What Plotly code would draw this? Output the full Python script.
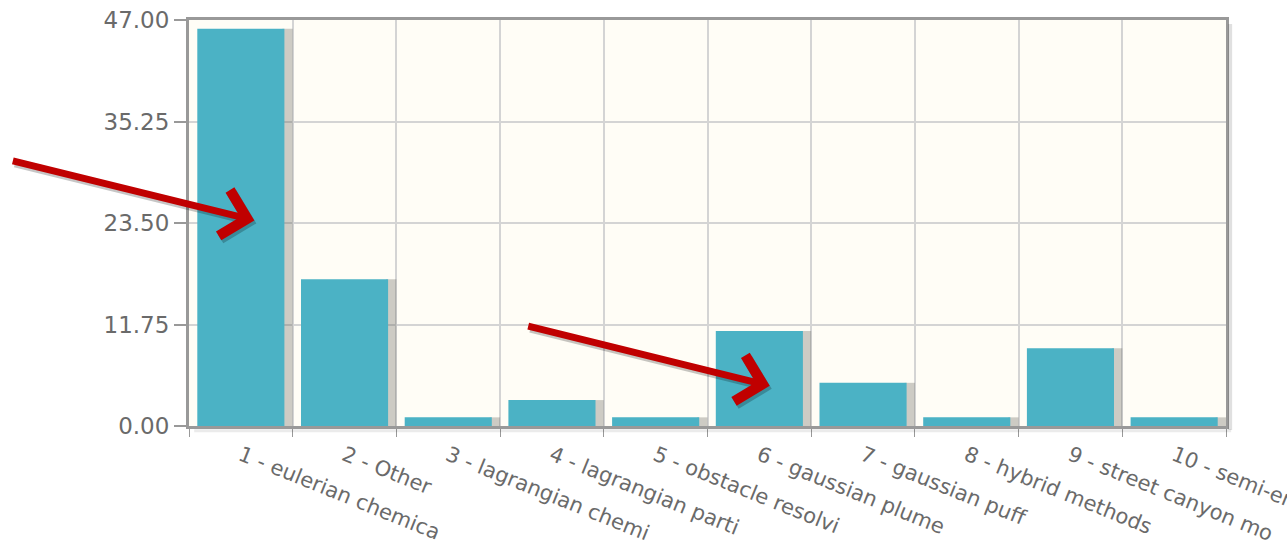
import plotly.graph_objects as go

# Model categories and counts
categories = [
    "1 - eulerian chemica",
    "2 - Other",
    "3 - lagrangian chemi",
    "4 - lagrangian parti",
    "5 - obstacle resolvi",
    "6 - gaussian plume",
    "7 - gaussian puff",
    "8 - hybrid methods",
    "9 - street canyon mo",
    "10 - semi-empirical",
]
counts = [46, 17, 1, 3, 1, 11, 5, 1, 9, 1]
y_ticks = [0, 11.75, 23.5, 35.25, 47]
y_tick_text = ["0.00", "11.75", "23.50", "35.25", "47.00"]

# Highlighted categories (arrow tips): (category index offset, value)
arrow_tips = [(0.13, 23.8), (5.1, 4.65)]

BAR = "#4bb2c5"
GRID = "#d4d4d4"
FRAME = "#999999"
TEXT = "#6a6a6a"

fig = go.Figure()

# soft drop shadow on the right side of each bar
fig.add_trace(go.Bar(
    x=categories, y=counts, width=0.1, offset=0.40,
    marker=dict(color="rgba(90,90,80,0.30)", line=dict(width=0)),
    hoverinfo="skip", showlegend=False,
))
fig.add_trace(go.Bar(
    x=categories, y=counts, width=0.84, offset=-0.42,
    marker=dict(color=BAR, line=dict(width=0)),
    showlegend=False,
))

annotations = []
for xi, yv in arrow_tips:
    # shadow then arrow
    for color, xs, ys in [("rgba(0,0,0,0.22)", 2, -3), ("#c00000", 0, 0)]:
        annotations.append(dict(
            x=xi, y=yv, xref="x", yref="y", text="",
            showarrow=True, arrowhead=4, arrowsize=1.3, arrowwidth=7,
            arrowcolor=color, ax=-243, ay=-60, xshift=xs, yshift=ys,
        ))

fig.update_layout(
    width=1287, height=550,
    margin=dict(l=189, r=61, t=20, b=124),
    paper_bgcolor="white",
    plot_bgcolor="#fffdf6",
    barmode="overlay",
    annotations=annotations,
    font=dict(family="DejaVu Sans", color=TEXT),
    xaxis=dict(
        type="category", tickson="boundaries", automargin=False,
        range=[-0.5, 9.5],
        tickangle=22, ticks="outside", ticklen=8, tickcolor=FRAME, tickwidth=1,
        ticklabelstandoff=6,
        tickfont=dict(size=21, color=TEXT, family="DejaVu Sans"),
        showgrid=True, gridcolor=GRID, gridwidth=1.5,
        showline=True, linecolor=FRAME, linewidth=3, mirror=True,
        zeroline=False,
    ),
    yaxis=dict(
        range=[0, 47], tickvals=y_ticks, ticktext=y_tick_text, automargin=False,
        ticks="outside", ticklen=12, tickcolor=FRAME, tickwidth=1.5,
        tickfont=dict(size=23, color=TEXT, family="DejaVu Sans"),
        showgrid=True, gridcolor=GRID, gridwidth=1.5,
        showline=True, linecolor=FRAME, linewidth=3, mirror=True,
        zeroline=False,
    ),
    shapes=[
        # drop shadow along the right and bottom edges of the plotting frame
        dict(type="line", xref="paper", yref="paper", x0=1.004, x1=1.004, y0=-0.01, y1=0.99,
             line=dict(color="rgba(0,0,0,0.12)", width=4)),
        dict(type="line", xref="paper", yref="paper", x0=0.005, x1=1.005, y0=-0.012, y1=-0.012,
             line=dict(color="rgba(0,0,0,0.08)", width=3)),
    ],
)

fig.write_html("out.html")
